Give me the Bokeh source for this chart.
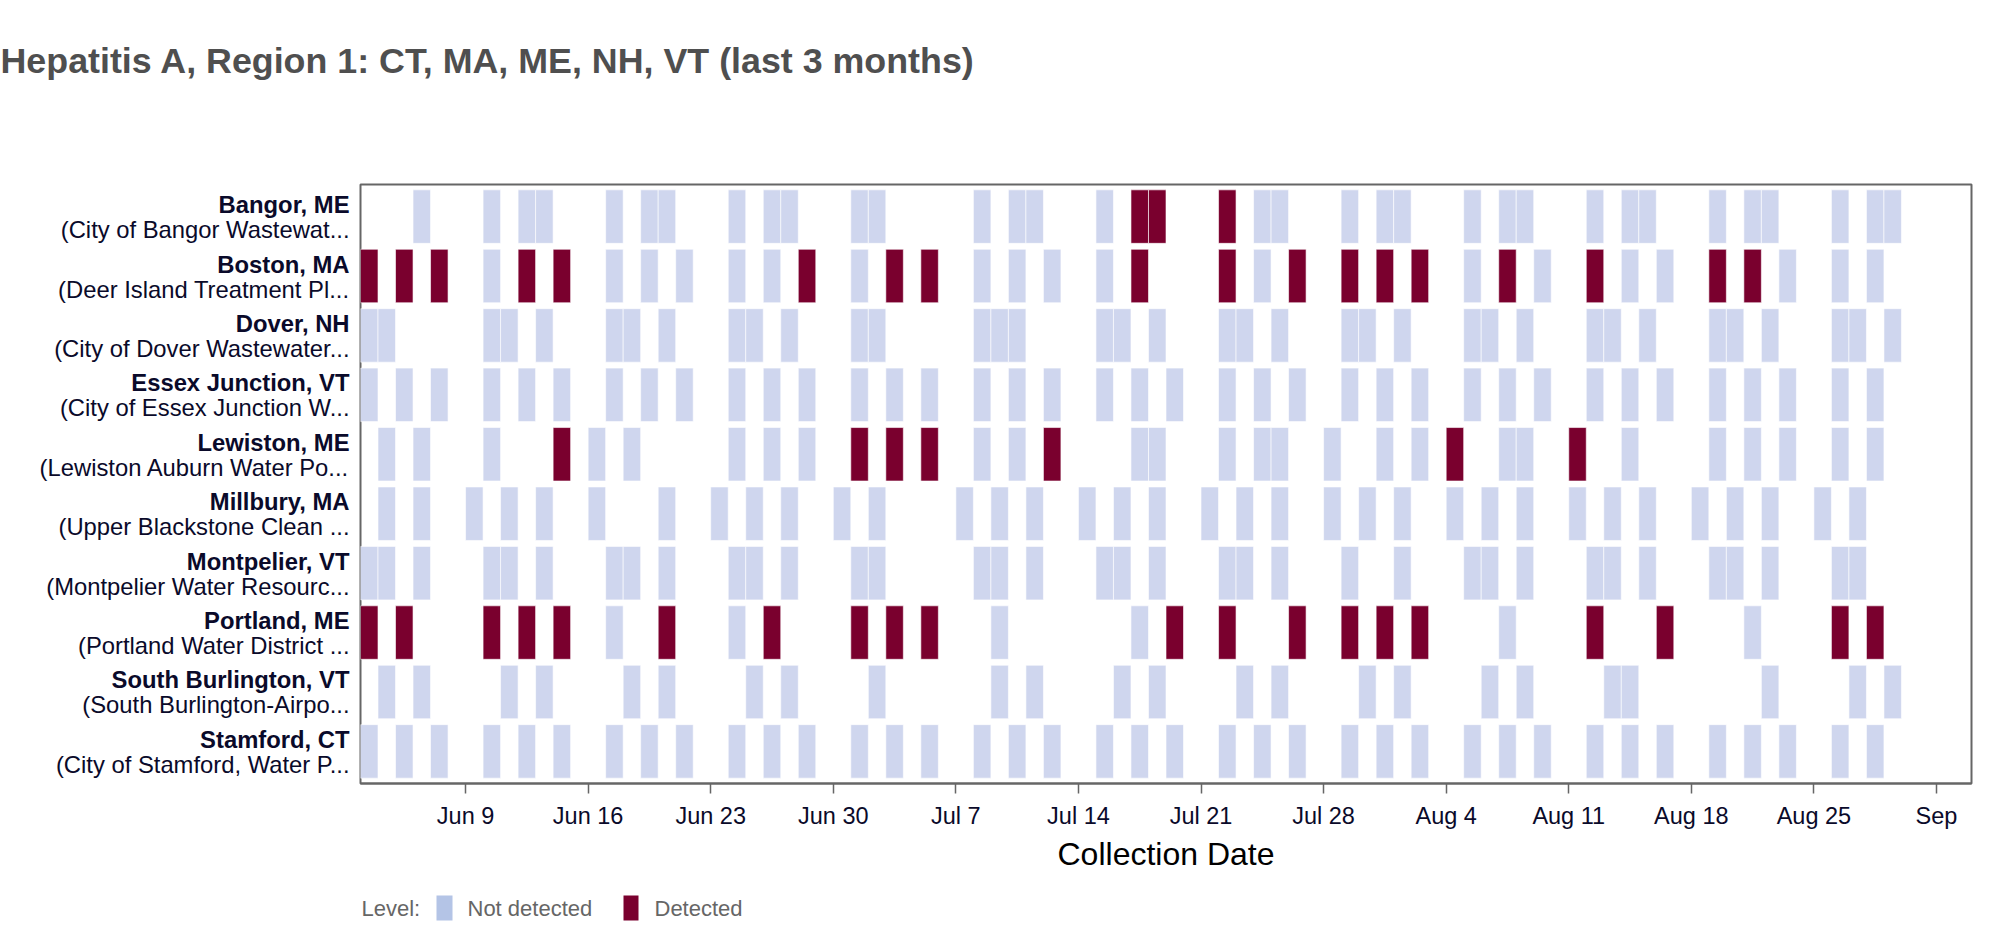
from datetime import datetime, timedelta
from bokeh.plotting import figure
from bokeh.models import ColumnDataSource, Range1d, FixedTicker
from bokeh.layouts import column, row
from bokeh.embed import file_html
from bokeh.resources import INLINE
from bokeh.core.properties import value

YEAR = 2024

sites = ["Bangor, ME", "Boston, MA", "Dover, NH", "Essex Junction, VT", "Lewiston, ME",
         "Millbury, MA", "Montpelier, VT", "Portland, ME", "South Burlington, VT", "Stamford, CT"]
facilities = ["(City of Bangor Wastewat...", "(Deer Island Treatment Pl...",
              "(City of Dover Wastewater...", "(City of Essex Junction W...",
              "(Lewiston Auburn Water Po...", "(Upper Blackstone Clean ...",
              "(Montpelier Water Resourc...", "(Portland Water District ...",
              "(South Burlington-Airpo...", "(City of Stamford, Water P..."]

# sample dates (MM-DD) per site
not_detected = {
    "Bangor, ME": ["06-06", "06-10", "06-12", "06-13", "06-17", "06-19", "06-20", "06-24", "06-26",
                   "06-27", "07-01", "07-02", "07-08", "07-10", "07-11", "07-15", "07-24", "07-25",
                   "07-29", "07-31", "08-01", "08-05", "08-07", "08-08", "08-12", "08-14", "08-15",
                   "08-19", "08-21", "08-22", "08-26", "08-28", "08-29"],
    "Boston, MA": ["06-10", "06-17", "06-19", "06-21", "06-24", "06-26", "07-01", "07-08", "07-10",
                   "07-12", "07-15", "07-24", "08-05", "08-09", "08-14", "08-16", "08-23", "08-26",
                   "08-28"],
    "Dover, NH": ["06-03", "06-04", "06-10", "06-11", "06-13", "06-17", "06-18", "06-20", "06-24",
                  "06-25", "06-27", "07-01", "07-02", "07-08", "07-09", "07-10", "07-15", "07-16",
                  "07-18", "07-22", "07-23", "07-25", "07-29", "07-30", "08-01", "08-05", "08-06",
                  "08-08", "08-12", "08-13", "08-15", "08-19", "08-20", "08-22", "08-26", "08-27",
                  "08-29"],
    "Essex Junction, VT": ["06-03", "06-05", "06-07", "06-10", "06-12", "06-14", "06-17", "06-19",
                           "06-21", "06-24", "06-26", "06-28", "07-01", "07-03", "07-05", "07-08",
                           "07-10", "07-12", "07-15", "07-17", "07-19", "07-22", "07-24", "07-26",
                           "07-29", "07-31", "08-02", "08-05", "08-07", "08-09", "08-12", "08-14",
                           "08-16", "08-19", "08-21", "08-23", "08-26", "08-28"],
    "Lewiston, ME": ["06-04", "06-06", "06-10", "06-16", "06-18", "06-24", "06-26", "06-28", "07-08",
                     "07-10", "07-17", "07-18", "07-22", "07-24", "07-25", "07-28", "07-31", "08-02",
                     "08-07", "08-08", "08-14", "08-19", "08-21", "08-23", "08-26", "08-28"],
    "Millbury, MA": ["06-04", "06-06", "06-09", "06-11", "06-13", "06-16", "06-20", "06-23", "06-25",
                     "06-27", "06-30", "07-02", "07-07", "07-09", "07-11", "07-14", "07-16", "07-18",
                     "07-21", "07-23", "07-25", "07-28", "07-30", "08-01", "08-04", "08-06", "08-08",
                     "08-11", "08-13", "08-15", "08-18", "08-20", "08-22", "08-25", "08-27"],
    "Montpelier, VT": ["06-03", "06-04", "06-06", "06-10", "06-11", "06-13", "06-17", "06-18", "06-20",
                       "06-24", "06-25", "06-27", "07-01", "07-02", "07-08", "07-09", "07-11", "07-15",
                       "07-16", "07-18", "07-22", "07-23", "07-25", "07-29", "08-01", "08-05", "08-06",
                       "08-08", "08-12", "08-13", "08-15", "08-19", "08-20", "08-22", "08-26", "08-27"],
    "Portland, ME": ["06-17", "06-24", "07-09", "07-17", "08-07", "08-21"],
    "South Burlington, VT": ["06-04", "06-06", "06-11", "06-13", "06-18", "06-20", "06-25", "06-27",
                             "07-02", "07-09", "07-11", "07-16", "07-18", "07-23", "07-25", "07-30",
                             "08-01", "08-06", "08-08", "08-13", "08-14", "08-22", "08-27", "08-29"],
    "Stamford, CT": ["06-03", "06-05", "06-07", "06-10", "06-12", "06-14", "06-17", "06-19", "06-21",
                     "06-24", "06-26", "06-28", "07-01", "07-03", "07-05", "07-08", "07-10", "07-12",
                     "07-15", "07-17", "07-19", "07-22", "07-24", "07-26", "07-29", "07-31", "08-02",
                     "08-05", "08-07", "08-09", "08-12", "08-14", "08-16", "08-19", "08-21", "08-23",
                     "08-26", "08-28"],
}
detected = {
    "Bangor, ME": ["07-17", "07-18", "07-22"],
    "Boston, MA": ["06-03", "06-05", "06-07", "06-12", "06-14", "06-28", "07-03", "07-05", "07-17",
                   "07-22", "07-26", "07-29", "07-31", "08-02", "08-07", "08-12", "08-19", "08-21"],
    "Lewiston, ME": ["06-14", "07-01", "07-03", "07-05", "07-12", "08-04", "08-11"],
    "Portland, ME": ["06-03", "06-05", "06-10", "06-12", "06-14", "06-20", "06-26", "07-01", "07-03",
                     "07-05", "07-19", "07-22", "07-26", "07-29", "07-31", "08-02", "08-12", "08-16",
                     "08-26", "08-28"],
}

tick_dates = ["06-09", "06-16", "06-23", "06-30", "07-07", "07-14", "07-21", "07-28",
              "08-04", "08-11", "08-18", "08-25", "09-01"]
tick_labels = ["Jun 9", "Jun 16", "Jun 23", "Jun 30", "Jul 7", "Jul 14", "Jul 21", "Jul 28",
               "Aug 4", "Aug 11", "Aug 18", "Aug 25", "Sep"]

TITLE = "Hepatitis A, Region 1: CT, MA, ME, NH, VT (last 3 months)"
COLOR_ND = "#cfd6ee"
COLOR_D = "#7a002e"
SWATCH_ND = "#b4c4e6"
FONT = "Liberation Sans"
LABEL_COLOR = "#0a0a2a"


def to_date(md):
    m, d = md.split("-")
    return datetime(YEAR, int(m), int(d))


def bare(fig):
    fig.grid.visible = False
    fig.outline_line_color = None
    fig.background_fill_color = "white"
    fig.border_fill_color = "white"
    return fig


n = len(sites)
left, right, bottom, top, color, level = [], [], [], [], [], []
for i, s in enumerate(sites):
    yc = n - 0.5 - i
    for lst, col, lev in ((not_detected.get(s, []), COLOR_ND, "Not detected"),
                          (detected.get(s, []), COLOR_D, "Detected")):
        for md in lst:
            dt = to_date(md)
            left.append(dt)
            right.append(dt + timedelta(days=1))
            bottom.append(yc - 0.45)
            top.append(yc + 0.45)
            color.append(col)
            level.append(lev)

src = ColumnDataSource(dict(left=left, right=right, bottom=bottom, top=top, color=color, level=level))

W = 2010
LABW = 359
TITLE_H = 183
MAIN_H = 706
LEG_H = 38
BOTTOM = 106

# ---------- title strip ----------
tf = bare(figure(width=W, height=TITLE_H, x_range=Range1d(0, W), y_range=Range1d(0, TITLE_H),
                 output_backend="svg", toolbar_location=None, min_border=0,
                 x_axis_location=None, y_axis_location=None, frame_align=False))
tf.text(x=[0], y=[TITLE_H - 60], text=[TITLE], text_font=value(FONT), text_font_style="bold",
        text_font_size="35.8px", text_color="#4f4f4f", text_align="left",
        text_baseline="middle")

# ---------- main chart ----------
p = figure(width=W - LABW, height=MAIN_H, x_axis_type="datetime",
           x_range=Range1d(datetime(YEAR, 6, 3), datetime(YEAR, 9, 3)),
           y_range=Range1d(-0.04, n + 0.04),
           output_backend="svg", toolbar_location=None, y_axis_location=None,
           min_border_left=1, min_border_right=39, min_border_top=1, min_border_bottom=BOTTOM,
           frame_align=False)
p.background_fill_color = "white"
p.border_fill_color = "white"
p.grid.visible = False
p.outline_line_color = "#666666"
p.outline_line_width = 2

p.quad(left="left", right="right", bottom="bottom", top="top", fill_color="color",
       line_color="white", line_alpha=0.6, line_width=1, source=src)

epoch = datetime(1970, 1, 1)
tick_ms = [(to_date(t) - epoch).total_seconds() * 1000.0 for t in tick_dates]
ax = p.xaxis[0]
ax.ticker = FixedTicker(ticks=tick_ms)
ax.major_label_overrides = {ms: lab for ms, lab in zip(tick_ms, tick_labels)}
ax.major_label_text_font = FONT
ax.major_label_text_font_size = "23.5px"
ax.major_label_text_color = LABEL_COLOR
ax.major_label_standoff = 9
ax.major_tick_out = 10
ax.major_tick_in = 0
ax.major_tick_line_color = "#666666"
ax.major_tick_line_width = 1.5
ax.minor_tick_line_color = None
ax.axis_line_color = "#666666"
ax.axis_line_width = 2
ax.axis_label = "Collection Date"
ax.axis_label_text_font = FONT
ax.axis_label_text_font_size = "32px"
ax.axis_label_text_font_style = "normal"
ax.axis_label_text_color = "black"
ax.axis_label_standoff = 4

# ---------- row labels ----------
lf = bare(figure(width=LABW, height=MAIN_H, x_range=Range1d(0, LABW), y_range=p.y_range,
                 output_backend="svg", toolbar_location=None,
                 min_border_left=0, min_border_right=0, min_border_top=1,
                 min_border_bottom=BOTTOM, x_axis_location=None, y_axis_location=None,
                 frame_align=False))
ycs = [n - 0.5 - i for i in range(n)]
lf.text(x=[LABW - 10] * n, y=ycs, text=sites, y_offset=-12, text_font=value(FONT),
        text_font_style="bold", text_font_size="23.8px", text_color=LABEL_COLOR,
        text_align="right", text_baseline="middle")
lf.text(x=[LABW - 10] * n, y=ycs, text=facilities, y_offset=13, text_font=value(FONT),
        text_font_size="23.8px", text_color=LABEL_COLOR,
        text_align="right", text_baseline="middle")

# ---------- legend strip ----------
lg = bare(figure(width=W, height=LEG_H, x_range=Range1d(0, W), y_range=Range1d(0, LEG_H),
                 output_backend="svg", toolbar_location=None, min_border=0,
                 x_axis_location=None, y_axis_location=None, frame_align=False))
lg.quad(left=[436, 623], right=[452, 638], bottom=[7, 7], top=[32, 32],
        fill_color=[SWATCH_ND, COLOR_D], line_color=None)
lg.text(x=[361, 467, 654], y=[19, 19, 19], text=["Level:", "Not detected", "Detected"],
        text_font=value(FONT), text_font_size="22px", text_color="#666666",
        text_align="left", text_baseline="middle")

layout = column(tf, row(lf, p), lg)
open("out.html", "w").write(file_html(layout, INLINE))
